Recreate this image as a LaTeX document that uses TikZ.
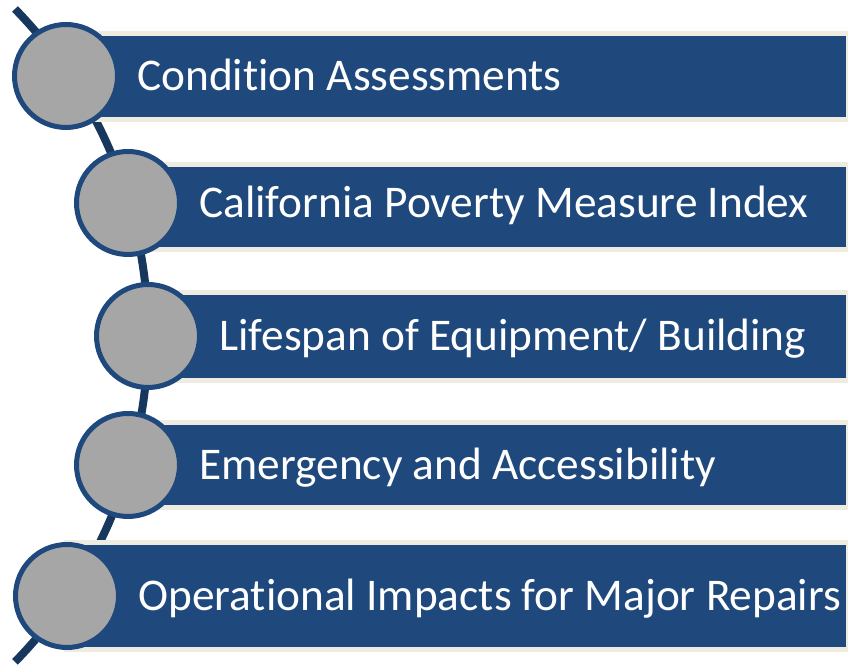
\documentclass[tikz,border=0pt]{standalone}
\usepackage{fontspec}
\setmainfont[Ligatures=NoCommon]{Carlito}
\usepackage{tikz}
\usetikzlibrary{calc}

\definecolor{barblue}{HTML}{1F497D}
\definecolor{spineblue}{HTML}{17375E}
\definecolor{dotgray}{HTML}{A6A6A6}
\definecolor{stripbeige}{HTML}{EEECE1}

\begin{document}
\begin{tikzpicture}[x=0.02cm, y=0.02cm]
\fontsize{25.8}{30}\selectfont

% used shapes
\tikzstyle{spine} = [draw=spineblue, line width=4.55pt]
\tikzstyle{bar} = [rectangle, draw=stripbeige, fill=barblue, line width=2.85pt, inner sep=0pt, outer sep=0pt]
\tikzstyle{dot} = [circle, draw=barblue, fill=dotgray, line width=2.85pt, minimum size=2.06cm, inner sep=0pt, outer sep=0pt]
\tikzstyle{itemtext} = [anchor=west, text=white, inner sep=0pt, text height=16.6pt, text depth=0pt]

\useasboundingbox (0,0) rectangle (848,668);

% curved line behind the dots
\coordinate (top) at (15,659);
\draw[spine] (top) arc[start angle=44.35, end angle=-44.35, radius=467];

% bars
\node [bar, anchor=west, minimum width=782*0.02cm, minimum height=86*0.02cm] (b1) at (66,591.5) {};
\node [bar, anchor=west, minimum width=720*0.02cm, minimum height=85*0.02cm] (b2) at (128,461) {};
\node [bar, anchor=west, minimum width=700*0.02cm, minimum height=88*0.02cm] (b3) at (148,331.5) {};
\node [bar, anchor=west, minimum width=720*0.02cm, minimum height=85*0.02cm] (b4) at (128,203) {};
\node [bar, anchor=west, minimum width=781*0.02cm, minimum height=107*0.02cm] (b5) at (67,72) {};

% dots
\node [dot] (c1) at (66,592) {};
\node [dot] (c2) at (128,465) {};
\node [dot] (c3) at (148,332) {};
\node [dot] (c4) at (128,203) {};
\node [dot] (c5) at (67,72) {};

% texts
\node [itemtext] (t1) at ([xshift=71*0.02cm]c1.center) {Condition Assessments};
\node [itemtext] (t2) at ([xshift=71*0.02cm]c2.center) {California Poverty Measure Index};
\node [itemtext] (t3) at ([xshift=71*0.02cm]c3.center) {Lifespan of Equipment/ Building};
\node [itemtext] (t4) at ([xshift=71*0.02cm]c4.center) {Emergency and Accessibility};
\node [itemtext] (t5) at ([xshift=71*0.02cm]c5.center) {Operational Impacts for Major Repairs};

\end{tikzpicture}
\end{document}
